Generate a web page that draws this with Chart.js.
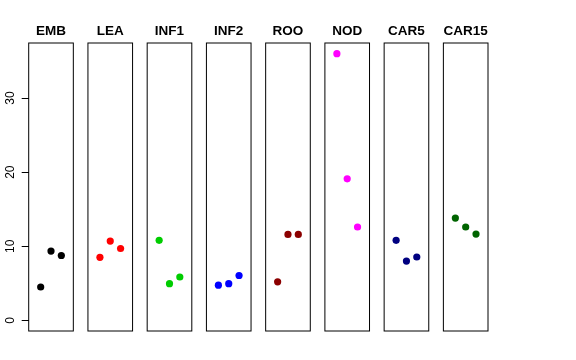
<!DOCTYPE html>
<html>
<head>
<meta charset="utf-8">
<script src="https://cdn.jsdelivr.net/npm/chart.js@4"></script>
<style>
  html, body { margin: 0; padding: 0; background: #fff; }
  #wrap { width: 576px; height: 360px; position: relative; }
</style>
</head>
<body>
<div id="wrap"><canvas id="c" width="576" height="360"></canvas></div>
<script>
const categories = ["EMB", "LEA", "INF1", "INF2", "ROO", "NOD", "CAR5", "CAR15"];
const EMB   = [4.5, 9.35, 8.75];
const LEA   = [8.5, 10.7, 9.7];
const INF1  = [10.8, 4.95, 5.85];
const INF2  = [4.75, 4.95, 6.05];
const ROO   = [5.2, 11.6, 11.6];
const NOD   = [36.0, 19.1, 12.6];
const CAR5  = [10.8, 8.0, 8.55];
const CAR15 = [13.8, 12.6, 11.65];
const seriesValues = [EMB, LEA, INF1, INF2, ROO, NOD, CAR5, CAR15];
const colors = ["#000000", "#FF0000", "#00CD00", "#0000FF", "#8B0000", "#FF00FF", "#000080", "#006400"];
const yTickLabels = ["0", "10", "20", "30"];

const PANEL_W = 4.32;   // panel width in x units (0..4 extended 4%)
const STEP = 5.735;     // distance between panel starts
const X_OFF = 0.16;

const datasets = seriesValues.map((vals, i) => ({
  label: categories[i],
  data: vals.map((v, j) => ({ x: i * STEP + X_OFF + (j + 1), y: v })),
  backgroundColor: colors[i],
  borderColor: colors[i],
  pointRadius: 3.6,
  pointBorderWidth: 0,
  pointHoverRadius: 3.6,
  showLine: false
}));

const panelPlugin = {
  id: 'panels',
  afterDraw(chart) {
    const ctx = chart.ctx;
    const xs = chart.scales.x, ys = chart.scales.y;
    const top = chart.chartArea.top, bottom = chart.chartArea.bottom;
    ctx.save();
    ctx.strokeStyle = '#000';
    ctx.lineWidth = 1;
    categories.forEach((cat, i) => {
      const l = xs.getPixelForValue(i * STEP);
      const r = xs.getPixelForValue(i * STEP + PANEL_W);
      ctx.strokeRect(l, top, r - l, bottom - top);
      ctx.fillStyle = '#000';
      ctx.font = 'bold 13.5px "Liberation Sans", Arial, sans-serif';
      ctx.textAlign = 'center';
      ctx.textBaseline = 'alphabetic';
      ctx.fillText(cat, (l + r) / 2, 34.5);
    });
    // y tick labels, rotated as in R
    ctx.font = '12px "Liberation Sans", Arial, sans-serif';
    ctx.fillStyle = '#000';
    yTickLabels.forEach(t => {
      const y = ys.getPixelForValue(Number(t));
      ctx.save();
      ctx.translate(13.5, y);
      ctx.rotate(-Math.PI / 2);
      ctx.textAlign = 'center';
      ctx.textBaseline = 'alphabetic';
      ctx.fillText(t, 0, 0);
      ctx.restore();
    });
    ctx.restore();
  }
};

new Chart(document.getElementById('c'), {
  type: 'scatter',
  data: { datasets },
  options: {
    responsive: false,
    animation: false,
    devicePixelRatio: 1,
    layout: { padding: { top: 43, bottom: 29, right: 88, left: 0 } },
    plugins: { legend: { display: false }, tooltip: { enabled: false }, title: { display: false } },
    scales: {
      x: {
        type: 'linear',
        display: false,
        min: 0,
        max: 7 * STEP + PANEL_W
      },
      y: {
        type: 'linear',
        min: -1.44,
        max: 37.44,
        afterBuildTicks(scale) { scale.ticks = yTickLabels.map(t => ({ value: Number(t) })); },
        afterFit(scale) { scale.width = 28.7; },
        border: { display: false },
        grid: { drawOnChartArea: false, drawTicks: true, tickLength: 7, color: '#000', tickColor: '#000' },
        ticks: { display: false }
      }
    }
  },
  plugins: [panelPlugin]
});
</script>
</body>
</html>
